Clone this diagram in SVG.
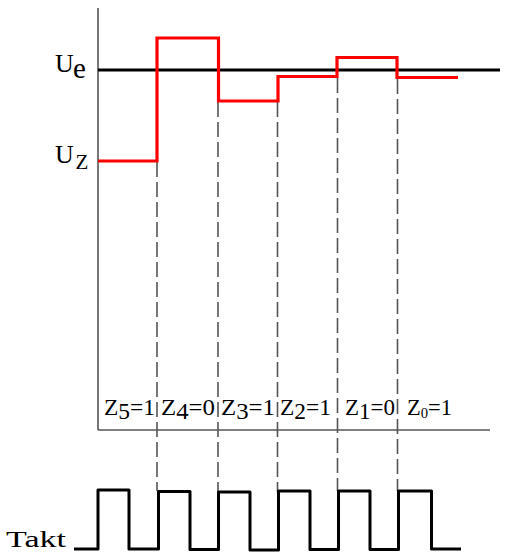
<svg xmlns="http://www.w3.org/2000/svg" width="506" height="553" viewBox="0 0 506 553">
<style>
.axis{stroke:#555;stroke-width:1.6;fill:none}
.ref{stroke:#000;stroke-width:3.2;fill:none}
.sig{stroke:#ff0000;stroke-width:3.2;fill:none;stroke-linejoin:miter}
.dash{stroke:#555;stroke-width:1.6;fill:none;stroke-dasharray:15 5}
.clk{stroke:#000;stroke-width:3;fill:none;stroke-linejoin:round}
text{font-family:"Liberation Serif","Times New Roman",serif;fill:#000}
.lbl{font-size:23px}
.big{font-size:26px}
</style>
<rect width="506" height="553" fill="#fff"/>
<g id="axes">
<line class="axis" x1="98" y1="8" x2="98" y2="430"/>
<line class="axis" x1="98" y1="430" x2="490" y2="430"/>
</g>
<g id="connectors">
<line class="dash" x1="157" y1="162" x2="157" y2="491"/>
<line class="dash" x1="218" y1="102" x2="218" y2="492"/>
<line class="dash" x1="277.5" y1="102" x2="277.5" y2="492"/>
<line class="dash" x1="337.5" y1="78" x2="337.5" y2="491"/>
<line class="dash" x1="397.5" y1="79" x2="397.5" y2="491"/>
</g>
<g id="ue-line">
<line class="ref" x1="98" y1="70" x2="500" y2="70"/>
</g>
<g id="signal">
<polyline class="sig" points="98,161 157,161 157,38 218.5,38 218.5,101 278,101 278,76.5 337,76.5 337,57.5 397,57.5 397,77.5 458,77.5"/>
</g>
<g id="clock">
<polyline class="clk" points="74,549 98,549 98,490 129,490 129,549 158.5,549 158.5,491.5 190,491.5 190,549.5 218.5,549.5 218.5,492 250,492 250,550 278.5,550 278.5,491 310,491 310,549.5 338.5,549.5 338.5,491 370,491 370,549.5 398.5,549.5 398.5,491 431.5,491 431.5,549 461,549"/>
</g>
<g id="label-ue"><text class="big" x="55" y="72">U<tspan x="73" y="78" font-size="29">e</tspan></text></g>
<g id="label-uz"><text class="big" x="55" y="162.5">U<tspan x="75.5" y="168.5" font-size="21">Z</tspan></text></g>
<g id="label-takt"><text x="6" y="547" font-size="24" textLength="60" lengthAdjust="spacingAndGlyphs">Takt</text></g>
<g id="z-labels">
<text class="lbl" x="104" y="415" textLength="51" lengthAdjust="spacingAndGlyphs">Z<tspan dy="4">5</tspan><tspan dy="-4">=1</tspan></text>
<text class="lbl" x="161" y="415" textLength="54" lengthAdjust="spacingAndGlyphs">Z<tspan dy="4">4</tspan><tspan dy="-4">=0</tspan></text>
<text class="lbl" x="221" y="415" textLength="54" lengthAdjust="spacingAndGlyphs">Z<tspan dy="4">3</tspan><tspan dy="-4">=1</tspan></text>
<text class="lbl" x="280" y="415" textLength="51" lengthAdjust="spacingAndGlyphs">Z<tspan dy="4">2</tspan><tspan dy="-4">=1</tspan></text>
<text class="lbl" x="345" y="415" textLength="50" lengthAdjust="spacingAndGlyphs">Z<tspan dy="4">1</tspan><tspan dy="-4">=0</tspan></text>
<text class="lbl" x="407" y="415" textLength="45" lengthAdjust="spacingAndGlyphs">Z<tspan dy="3" font-size="15">0</tspan><tspan dy="-3">=1</tspan></text>
</g>
</svg>
